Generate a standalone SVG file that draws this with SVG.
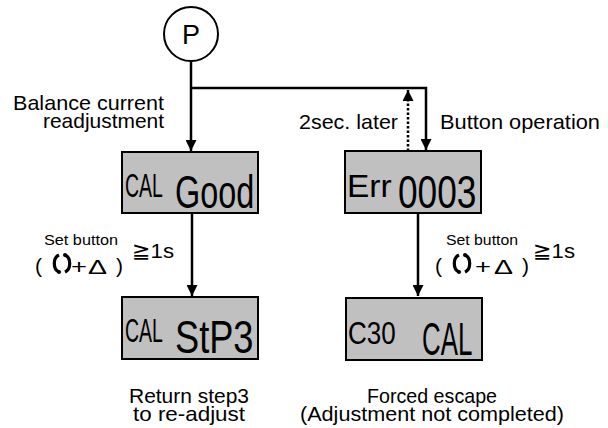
<svg xmlns="http://www.w3.org/2000/svg" width="608" height="428" viewBox="0 0 608 428">
<style>
.lbl{font-family:"Liberation Sans",Arial,sans-serif;font-size:21px;fill:#000}
.sm{font-family:"Liberation Sans",Arial,sans-serif;font-size:14px;fill:#000}
.sym{font-family:"DejaVu Sans","Noto Sans CJK JP",sans-serif;font-size:21px;fill:#000}
.lcd{fill:#c0c0c0;stroke:#000;stroke-width:2}
.seg{font-family:"Liberation Sans",Arial,sans-serif;fill:#000}
.ln{fill:none;stroke:#000;stroke-width:2.5}
.dot{fill:none;stroke:#000;stroke-width:2.5;stroke-dasharray:2.5 2}
.cyc{fill:none;stroke:#000;stroke-width:3.2;stroke-linecap:butt}
</style>
<defs>
<marker id="ah" viewBox="0 0 10 10" refX="10" refY="5" markerWidth="4.6" markerHeight="4.4" orient="auto" markerUnits="strokeWidth">
<path d="M0,0 L10,5 L0,10 Z" fill="#000"/>
</marker>
</defs>

<g id="node-P">
<circle cx="191" cy="34" r="27" fill="#fff" stroke="#000" stroke-width="2"/>
<text x="191" y="44" text-anchor="middle" style="font-family:'Liberation Sans',Arial,sans-serif;font-size:27px">P</text>
</g>

<g id="connectors">
<path class="ln" d="M191,61 V151" marker-end="url(#ah)"/>
<path class="ln" d="M191,88 H426 V150" marker-end="url(#ah)"/>
<path class="dot" d="M408,151 V90" marker-end="url(#ah)"/>
<path class="ln" d="M192,213 V296" marker-end="url(#ah)"/>
<path class="ln" d="M418,213 V296" marker-end="url(#ah)"/>
</g>

<g id="label-balance">
<text class="lbl" x="164" y="110" text-anchor="end" textLength="151" lengthAdjust="spacingAndGlyphs">Balance  current</text>
<text class="lbl" x="164" y="128" text-anchor="end" textLength="121" lengthAdjust="spacingAndGlyphs">readjustment</text>
</g>
<g id="label-2sec">
<text class="lbl" x="299" y="129" textLength="99" lengthAdjust="spacingAndGlyphs">2sec. later</text>
</g>
<g id="label-button">
<text class="lbl" x="440" y="129" textLength="160" lengthAdjust="spacingAndGlyphs">Button operation</text>
</g>

<g id="node-cal-good">
<rect class="lcd" x="122" y="152" width="136" height="61"/>
<text class="seg" font-size="33" transform="translate(125,197) scale(0.59,1)">CAL</text>
<text class="seg" font-size="47" transform="translate(175,208) scale(0.69,1)">Good</text>
</g>

<g id="node-err">
<rect class="lcd" x="345" y="151" width="136" height="62"/>
<text class="seg" font-size="31" transform="translate(347,197) scale(1.08,1)">Err</text>
<text class="seg" font-size="47" transform="translate(398,208) scale(0.75,1)">0003</text>
</g>

<g id="node-cal-step3">
<rect class="lcd" x="122" y="297" width="136" height="62"/>
<text class="seg" font-size="33" transform="translate(125,342) scale(0.59,1)">CAL</text>
<text class="seg" font-size="47" transform="translate(175,353) scale(0.77,1)">StP3</text>
</g>

<g id="node-c30-cal">
<rect class="lcd" x="346" y="298" width="136" height="62"/>
<text class="seg" font-size="31" transform="translate(348,344) scale(0.84,1)">C30</text>
<text class="seg" font-size="47" transform="translate(422,355) scale(0.55,1)">CAL</text>
</g>

<g id="label-set-left">
<text class="sm" x="44" y="245" textLength="74" lengthAdjust="spacingAndGlyphs">Set button</text>
<text class="lbl" x="35" y="273">(</text>
<path class="cyc" d="M59,255 A7,9 0 0 0 59,272"/>
<path class="cyc" d="M65,255 A7,9 0 0 1 65,272"/>
<circle cx="59" cy="272" r="2" fill="#000"/>
<circle cx="65" cy="255" r="2" fill="#000"/>
<text class="lbl" x="71" y="274" font-size="25" textLength="16" lengthAdjust="spacingAndGlyphs">+</text>
<text class="lbl" x="88" y="274" font-size="24" textLength="19" lengthAdjust="spacingAndGlyphs">Δ</text>
<text class="lbl" x="116" y="273">)</text>
<text class="lbl" x="132" y="258" textLength="42" lengthAdjust="spacingAndGlyphs"><tspan class="sym">≧</tspan>1s</text>
</g>

<g id="label-set-right">
<text class="sm" x="446" y="245" textLength="72" lengthAdjust="spacingAndGlyphs">Set button</text>
<text class="lbl" x="435" y="273">(</text>
<path class="cyc" d="M459,255 A7,9 0 0 0 459,272"/>
<path class="cyc" d="M465,255 A7,9 0 0 1 465,272"/>
<circle cx="459" cy="272" r="2" fill="#000"/>
<circle cx="465" cy="255" r="2" fill="#000"/>
<text class="lbl" x="475" y="274" font-size="25" textLength="16" lengthAdjust="spacingAndGlyphs">+</text>
<text class="lbl" x="494" y="274" font-size="24" textLength="19" lengthAdjust="spacingAndGlyphs">Δ</text>
<text class="lbl" x="522" y="273">)</text>
<text class="lbl" x="533" y="258" textLength="42" lengthAdjust="spacingAndGlyphs"><tspan class="sym">≧</tspan>1s</text>
</g>

<g id="label-return">
<text class="lbl" x="189" y="403" text-anchor="middle" textLength="120" lengthAdjust="spacingAndGlyphs">Return step3</text>
<text class="lbl" x="189" y="421" text-anchor="middle" textLength="112" lengthAdjust="spacingAndGlyphs">to re-adjust</text>
</g>
<g id="label-forced">
<text class="lbl" x="432" y="403" text-anchor="middle" textLength="130" lengthAdjust="spacingAndGlyphs">Forced escape</text>
<text class="lbl" x="432" y="421" text-anchor="middle" textLength="264" lengthAdjust="spacingAndGlyphs">(Adjustment not completed)</text>
</g>
</svg>
